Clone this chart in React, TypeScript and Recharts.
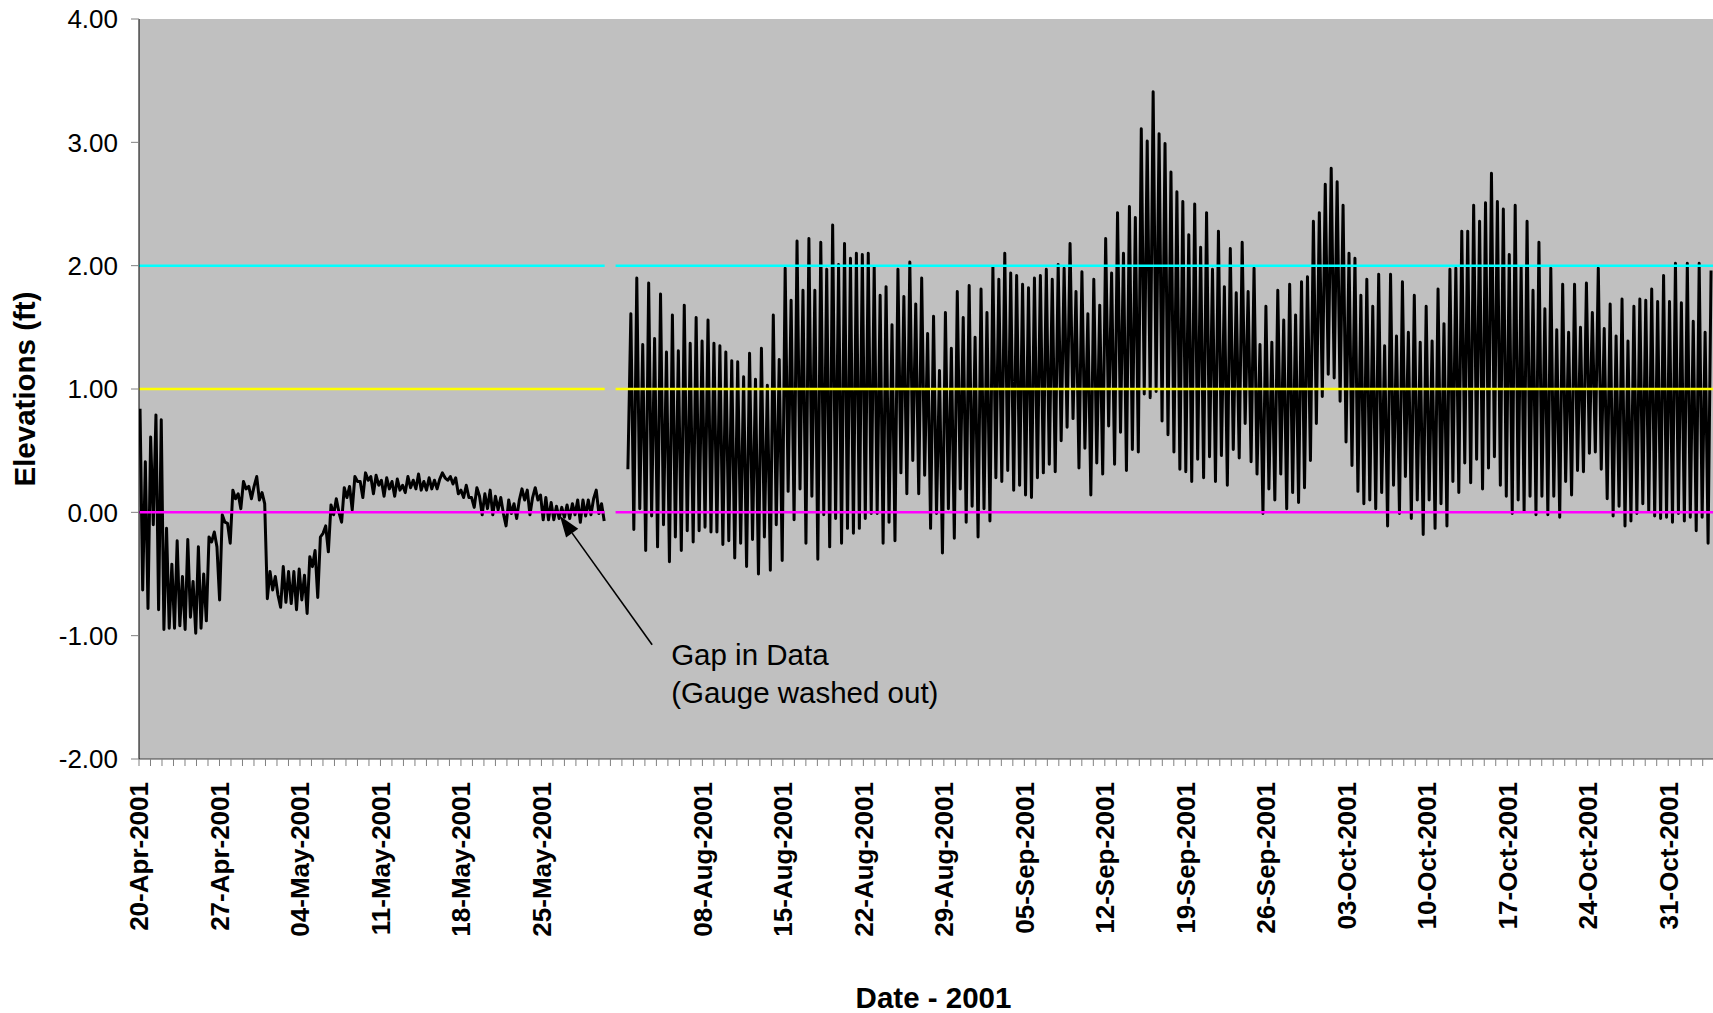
import React from 'react';
import { LineChart, Line, XAxis, YAxis, CartesianGrid, ReferenceLine } from 'recharts';

// Water surface elevation (ft). Spring deployment, readings roughly every 5.5 hours.
const aprilReadings = [
  0.84, -0.63, 0.41, -0.78, 0.61, -0.10, 0.79, -0.79, 0.75, -0.95,
  -0.13, -0.94, -0.42, -0.94, -0.23, -0.92, -0.52, -0.95, -0.22, -0.85,
  -0.56, -0.98, -0.28, -0.94, -0.50, -0.88, -0.20, -0.24, -0.16, -0.28,
  -0.71, -0.02, -0.08, -0.09, -0.25, 0.18, 0.11, 0.15, 0.03, 0.25,
  0.19, 0.21, 0.11, 0.21, 0.29, 0.10, 0.16, 0.07,
];
const mayReadings = [
  -0.70, -0.48, -0.63, -0.52, -0.67, -0.77, -0.44, -0.73, -0.48, -0.74,
  -0.48, -0.79, -0.46, -0.71, -0.51, -0.82, -0.36, -0.44, -0.31, -0.69,
  -0.20, -0.17, -0.11, -0.32, 0.06, -0.02, 0.11, 0.00, -0.08, 0.20,
  0.12, 0.21, 0.02, 0.29, 0.25, 0.25, 0.12, 0.32, 0.26, 0.29,
  0.15, 0.30, 0.22, 0.26, 0.13, 0.28, 0.19, 0.25, 0.13, 0.27,
  0.18, 0.22, 0.16, 0.29, 0.20, 0.26, 0.19, 0.31, 0.18, 0.25,
  0.18, 0.28, 0.19, 0.26, 0.19, 0.27,
  0.32, 0.28, 0.26, 0.29, 0.23, 0.28, 0.15, 0.18, 0.12, 0.22,
  0.12, 0.12, 0.04, 0.20, 0.13, -0.02, 0.15, 0.03, 0.18, -0.02,
  0.13, 0.02, 0.12, -0.01, -0.11, 0.10, -0.01, 0.07, -0.05, 0.10,
  0.19, 0.10, 0.18, -0.02, 0.12, 0.20, 0.10, 0.14, -0.06, 0.12,
  -0.06, 0.08, -0.06, 0.05, -0.05, 0.04, -0.04, 0.06, -0.05, 0.07,
  -0.02, 0.10, -0.08, 0.10, -0.03, 0.10, -0.02, 0.11, 0.18, -0.01,
  0.07, -0.07,
];

// Second deployment: successive low and high waters, alternating.
const augustTide = [
  0.35, 1.61, -0.14, 1.90, 0.03, 1.36, -0.31, 1.86, -0.03, 1.41,
  -0.28, 1.77, -0.10, 1.30, -0.40, 1.60, -0.20, 1.31, -0.31, 1.68,
  -0.15, 1.37, -0.24, 1.58, -0.15, 1.39, -0.12, 1.56, -0.16, 1.37,
  -0.16, 1.35, -0.26, 1.30, -0.23, 1.23, -0.37, 1.22, -0.25, 1.10,
  -0.44, 1.29, -0.22, 1.08, -0.50,
  1.33, -0.20, 1.03, -0.47, 1.60, -0.10, 1.24, -0.39, 1.98, 0.17,
  1.72, -0.06, 2.20, 0.19, 1.80, -0.25, 2.22, 0.13, 1.80, -0.38,
  2.19, -0.02, 1.97, -0.28, 2.33, -0.05, 2.01, -0.25, 2.18, -0.13,
  2.06, -0.17, 2.10, -0.13, 2.09, -0.05, 2.10, -0.01, 1.99, -0.01,
  1.76, -0.25, 1.83, -0.08, 1.52, -0.23, 1.97, 0.32,
  1.75, 0.15, 2.03, 0.42, 1.69, 0.15, 1.90, 0.30, 1.45, -0.13,
  1.59, -0.01, 1.15, -0.33, 1.62, 0.03, 1.33, -0.21, 1.79, 0.19,
  1.58, -0.08, 1.84, 0.05, 1.42, -0.20,
];
const septemberTide = [
  1.81, 0.03, 1.62, -0.07, 1.99, 0.28, 1.89, 0.25, 2.10, 0.34,
  1.94, 0.18, 1.92, 0.22, 1.85, 0.14, 1.82, 0.12, 1.90, 0.28, 1.92,
  0.32, 1.97, 0.39, 1.89, 0.33, 2.01, 0.58, 1.98, 0.69, 2.18,
  0.76, 1.79, 0.36, 1.95, 0.52, 1.61, 0.14, 1.89, 0.40, 1.68,
  0.31, 2.22, 0.70, 1.94, 0.39, 2.43, 0.65, 2.10, 0.34, 2.48,
  0.51, 2.39, 0.49, 3.11, 0.96, 3.01, 0.93, 3.41, 0.98, 3.07,
  0.74, 2.99, 0.63, 2.76, 0.49, 2.60, 0.35,
  2.52, 0.33, 2.25, 0.25, 2.50, 0.43, 2.15, 0.28, 2.43, 0.45,
  1.97, 0.25, 2.28, 0.46, 1.83, 0.22, 2.14, 0.51, 1.78, 0.44,
  2.19, 0.72, 1.79, 0.41, 1.98, 0.31, 1.36, -0.01, 1.67, 0.19,
  1.38, 0.10, 1.80, 0.31, 1.56, 0.03, 1.85, 0.16, 1.60, 0.08,
  1.87, 0.20, 1.91, 0.42, 2.36, 0.72, 2.43,
  0.94,
];
const octoberTide = [
  2.66, 1.12, 2.79, 1.09, 2.68, 0.90, 2.49, 0.57, 2.10, 0.38,
  2.06, 0.17, 1.76, 0.07, 1.89, 0.10, 1.67, 0.03, 1.93, 0.16,
  1.35, -0.11, 1.93, 0.22, 1.43, -0.01, 1.87, 0.29, 1.46, -0.05,
  1.76, 0.10, 1.38, -0.18, 1.67, 0.10, 1.39, -0.13, 1.81, 0.07,
  1.53, -0.11, 1.97, 0.25, 1.98, 0.16,
  2.28, 0.40, 2.28, 0.24, 2.49, 0.43, 2.36, 0.19, 2.51, 0.36,
  2.75, 0.45, 2.52, 0.22, 2.46, 0.13, 2.09, -0.01, 2.49, 0.10,
  1.99, 0.01, 2.36, 0.13, 1.80, -0.02, 2.19, 0.13, 1.65, -0.02,
  1.98, 0.13, 1.48, -0.04, 1.85, 0.25, 1.46, 0.14, 1.85, 0.34,
  1.50, 0.33, 1.86, 0.48, 1.62, 0.49, 1.98,
  0.35, 1.49, 0.11, 1.69, -0.03, 1.43, 0.05, 1.73, -0.11, 1.39,
  -0.07, 1.67, -0.01, 1.73, 0.07, 1.72, 0.01, 1.81, -0.03, 1.71,
  -0.05, 1.92, -0.04, 1.71, -0.08, 2.02, -0.01,
];
const novemberTide = [1.70, -0.07, 2.02, -0.04, 1.55, -0.15, 2.02, -0.04, 1.46, -0.25, 1.96];

// Datum lines (ft)
const datumLevels = [2, 1, 0];
const datumColors = ['#00FFFF', '#FFFF00', '#FF00FF'];

// Axis
const elevationTicks = [-2, -1, 0, 1, 2, 3, 4];
const weekTickDays = [0, 7, 14, 21, 28, 35, 42, 49, 56, 63, 70, 77, 84, 91, 98, 105, 112, 119, 126, 133];
const weekTickLabels = [
  '20-Apr-2001', '27-Apr-2001', '04-May-2001', '11-May-2001', '18-May-2001', '25-May-2001', '',
  '08-Aug-2001', '15-Aug-2001', '22-Aug-2001', '29-Aug-2001', '05-Sep-2001', '12-Sep-2001',
  '19-Sep-2001', '26-Sep-2001', '03-Oct-2001', '10-Oct-2001', '17-Oct-2001', '24-Oct-2001', '31-Oct-2001',
];

// Time axis in days from 20-Apr-2001 with June-July collapsed (01-Aug falls on day 42).
const SPRING_START = 0.09;
const SPRING_END = 40.46;
const FALL_START = 42.52;
const HALF_TIDE = 0.2581;
const DATUM_BREAK_START = 40.5;
const DATUM_BREAK_END = 41.45;
const AXIS_END = 138.2;

const FONT = '"Liberation Sans", Arial, Helvetica, sans-serif';

const springValues = [...aprilReadings, ...mayReadings];
const springSeries = springValues.map((v, i) => ({
  t: SPRING_START + (i * (SPRING_END - SPRING_START)) / (springValues.length - 1),
  v,
}));
const fallSeries = [...augustTide, ...septemberTide, ...octoberTide, ...novemberTide].map((v, i) => ({
  t: FALL_START + i * HALF_TIDE,
  v,
}));

const datumSeries = (level: number) => [
  { t: 0, v: level },
  { t: DATUM_BREAK_START, v: level },
  { t: (DATUM_BREAK_START + DATUM_BREAK_END) / 2, v: null },
  { t: DATUM_BREAK_END, v: level },
  { t: AXIS_END, v: level },
];

const dayTicks = Array.from({ length: Math.floor(AXIS_END) + 1 }, (_, d) => d);
const labelByDay = new Map<number, string>(weekTickDays.map((d, i) => [d, weekTickLabels[i]]));

const DateTick = (props: any) => {
  const { x, y, payload } = props;
  const label = labelByDay.get(payload.value);
  if (!label) return null;
  return (
    <text
      x={x}
      y={y}
      dy="0.36em"
      transform={`rotate(-90, ${x}, ${y})`}
      textAnchor="end"
      fontFamily={FONT}
      fontWeight="bold"
      fontSize={26}
      fill="#000"
    >
      {label}
    </text>
  );
};

const XTitle = (props: any) => {
  const { viewBox } = props;
  return (
    <text
      x={viewBox.x + viewBox.width / 2}
      y={1008}
      textAnchor="middle"
      fontFamily={FONT}
      fontWeight="bold"
      fontSize={29.5}
      fill="#000"
    >
      Date - 2001
    </text>
  );
};

const YTitle = (props: any) => {
  const { viewBox } = props;
  const cy = viewBox.y + viewBox.height / 2;
  return (
    <text
      x={35}
      y={cy}
      transform={`rotate(-90, 35, ${cy})`}
      textAnchor="middle"
      fontFamily={FONT}
      fontWeight="bold"
      fontSize={29.5}
      fill="#000"
    >
      Elevations (ft)
    </text>
  );
};

// Arrow from the note up to the end of the spring record, with the note text beside its tail.
const GapNote = (props: any) => {
  const { x1, y1, x2, y2 } = props;
  const dx = x2 - x1;
  const dy = y2 - y1;
  const len = Math.hypot(dx, dy) || 1;
  const ux = dx / len;
  const uy = dy / len;
  const headLen = 21;
  const headHalf = 7.5;
  const bx = x2 - ux * headLen;
  const by = y2 - uy * headLen;
  const pts = `${x2},${y2} ${bx - uy * headHalf},${by + ux * headHalf} ${bx + uy * headHalf},${by - ux * headHalf}`;
  return (
    <g>
      <line x1={x1} y1={y1} x2={bx} y2={by} stroke="#000" strokeWidth={1.6} />
      <polygon points={pts} fill="#000" />
      <text x={x1 + 19} y={y1 + 20.5} fontFamily={FONT} fontSize={29.5} fill="#000">
        Gap in Data
      </text>
      <text x={x1 + 19} y={y1 + 58} fontFamily={FONT} fontSize={29.5} fill="#000">
        (Gauge washed out)
      </text>
    </g>
  );
};

export default function App() {
  return (
    <div
      style={{
        position: 'absolute',
        left: 0,
        top: 0,
        width: 1713,
        height: 1013,
        overflow: 'hidden',
        background: '#fff',
      }}
    >
      <LineChart width={1728} height={1013} margin={{ top: 19, right: 0, bottom: 0, left: 0 }}>
        <CartesianGrid fill="#C0C0C0" horizontal={false} vertical={false} />
        <XAxis
          type="number"
          dataKey="t"
          domain={[0, AXIS_END]}
          ticks={dayTicks}
          interval={0}
          height={254}
          tickSize={7}
          tickMargin={16}
          axisLine={{ stroke: '#404040', strokeWidth: 1 }}
          tickLine={{ stroke: '#808080' }}
          tick={DateTick}
          label={XTitle}
          allowDataOverflow
        />
        <YAxis
          type="number"
          domain={[-2, 4]}
          ticks={elevationTicks}
          interval={0}
          width={139}
          tickSize={8}
          tickMargin={13}
          axisLine={{ stroke: '#000' }}
          tickLine={{ stroke: '#808080' }}
          tick={{ fontSize: 26, fill: '#000', fontFamily: FONT }}
          tickFormatter={(v: number) => v.toFixed(2)}
          label={YTitle}
          allowDataOverflow
        />
        <Line
          data={springSeries}
          dataKey="v"
          type="linear"
          stroke="#000"
          strokeWidth={3}
          strokeLinejoin="round"
          dot={false}
          activeDot={false}
          isAnimationActive={false}
        />
        <Line
          data={fallSeries}
          dataKey="v"
          type="linear"
          stroke="#000"
          strokeWidth={3}
          strokeLinejoin="round"
          dot={false}
          activeDot={false}
          isAnimationActive={false}
        />
        {datumLevels.map((level, i) => (
          <Line
            key={level}
            data={datumSeries(level)}
            dataKey="v"
            type="linear"
            stroke={datumColors[i]}
            strokeWidth={2.5}
            dot={false}
            activeDot={false}
            connectNulls={false}
            isAnimationActive={false}
          />
        ))}
        <ReferenceLine
          segment={[
            { x: 44.63, y: -1.073 },
            { x: 36.61, y: -0.03 },
          ]}
          shape={GapNote}
          ifOverflow="visible"
        />
      </LineChart>
    </div>
  );
}
